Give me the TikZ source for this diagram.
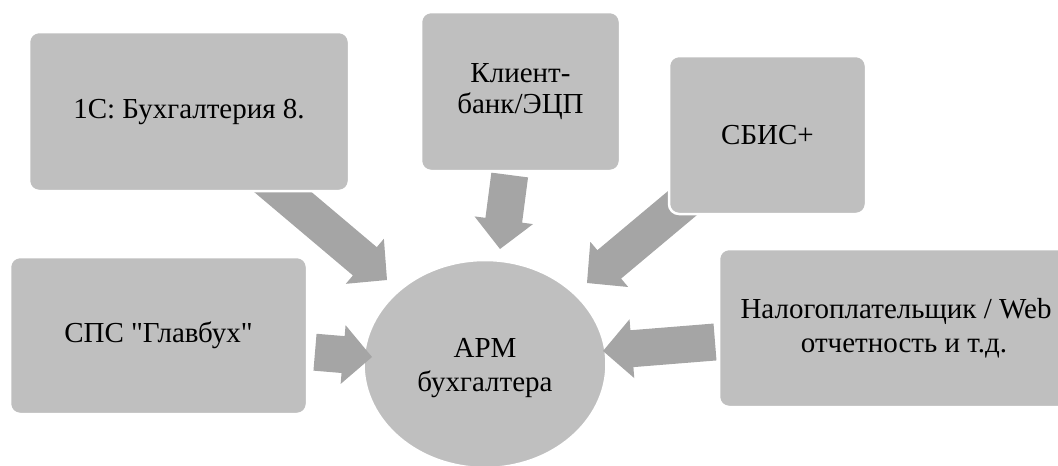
\documentclass[tikz,border=0pt]{standalone}
\usepackage{fontspec}
\setmainfont{Liberation Serif}
\newfontfamily\plainserif{Liberation Serif}
\usetikzlibrary{calc,shapes.geometric}
\definecolor{boxgray}{HTML}{BFBFBF}
\definecolor{arrgray}{HTML}{A5A5A5}
\tikzset{
  box/.style={rectangle, rounded corners=10pt, fill=boxgray, draw=white,
    line width=2.5pt, align=center, inner sep=0pt,
    font=\fontsize{29}{34}\selectfont},
  hub/.style={ellipse, fill=boxgray, draw=white, line width=2.5pt,
    inner sep=0pt, minimum width=243pt, minimum height=208pt},
  hubtext/.style={align=center, inner sep=0pt, font=\fontsize{29}{34}\selectfont},
  arrfill/.style={fill=arrgray}
}
% block arrow from tail coordinate #1 to tip coordinate #2
\newcommand\blockarr[2]{%
  \coordinate (bm) at ($(#2)!29pt!(#1)$);
  \fill[arrfill] (#2)
    -- ($(bm)!29.5pt!90:(#1)$) -- ($(bm)!18.5pt!90:(#1)$)
    -- ($(#1)!18.5pt!-90:(#2)$) -- ($(#1)!18.5pt!90:(#2)$)
    -- ($(bm)!18.5pt!-90:(#1)$) -- ($(bm)!29.5pt!-90:(#1)$) -- cycle;}
\begin{document}
\begin{tikzpicture}[x=1pt,y=-1pt]
\useasboundingbox (0,0) rectangle (1058,466);
% central ellipse
\node[hub, label={[hubtext, yshift=-4pt]center:АРМ\\бухгалтера}] (arm) at (485,364) {};
% arrow end points
\coordinate (a1s) at (265,177);  \coordinate (a1e) at (387,280);
\coordinate (a2s) at (509.7,175); \coordinate (a2e) at (500,249);
\coordinate (a3s) at (710,180);  \coordinate (a3e) at (587,283);
\coordinate (a4s) at (315,352.2); \coordinate (a4e) at (372,357);
\coordinate (a5s) at (715,342);  \coordinate (a5e) at (603,351);
\blockarr{a1s}{a1e}
\blockarr{a2s}{a2e}
\blockarr{a3s}{a3e}
\blockarr{a4s}{a4e}
\blockarr{a5s}{a5e}
% boxes
\node[box, minimum width=320pt, minimum height=159pt] (b1) at (189,111.5) {1С: Бухгалтерия 8.};
\node[box, minimum width=199pt, minimum height=159pt, font=\fontsize{29}{31}\selectfont] (b2) at (520.5,91.5) {Клиент-\\банк/ЭЦП};
\node[box, minimum width=197pt, minimum height=158pt] (b3) at (767.5,135) {СБИС+};
\node[box, minimum width=297pt, minimum height=157pt, font=\plainserif\fontsize{29}{34}\selectfont] (b4) at (158.5,335.5) {СПС "Главбух"};
\node[box, minimum width=354pt, minimum height=158pt] (b5) at (896,328) {Налогоплательщик / Web\\\hspace*{16pt}отчетность и т.д.};
\end{tikzpicture}
\end{document}
